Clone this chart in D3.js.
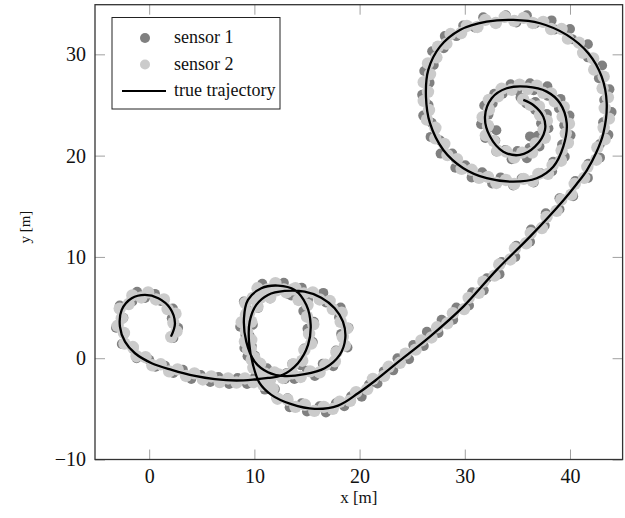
<!DOCTYPE html>
<html>
<head>
<meta charset="utf-8">
<script src="https://cdn.jsdelivr.net/npm/d3@7"></script>
<style>
  body { margin: 0; background: #fff; }
  text { font-family: "Liberation Serif", "DejaVu Serif", serif; fill: #111; }
</style>
</head>
<body>
<div id="chart"></div>
<script>
// Valeurs (en mètres)
const xTicks = [0, 10, 20, 30, 40];
const yTicks = [-10, 0, 10, 20, 30];

const trajectory = [
  [2.07, 2.13], [2.45, 3.45], [1.98, 4.94], [0.87, 5.92], [-0.4, 6.25], [-1.66, 5.92],
  [-2.61, 4.77], [-2.78, 3.12], [-2.3, 1.64], [-1.35, 0.49], [0.24, -0.49], [2.14, -1.15],
  [4.35, -1.75], [6.25, -2.07], [8.3, -2.2], [10.0, -2.1], [11.3, -1.95], [12.56, -1.71],
  [14.14, -0.49], [15.1, 1.31], [15.35, 3.29], [14.94, 5.26], [13.83, 6.74], [12.24, 7.17],
  [10.66, 6.91], [9.39, 5.76], [9.01, 3.95], [9.23, 1.64], [10.03, -0.34], [11.29, -1.38],
  [12.7, -1.75], [14.78, -1.58], [16.68, -0.99], [18.11, 0.33], [18.64, 1.97], [18.42, 3.61],
  [17.63, 4.94], [16.36, 5.98], [14.78, 6.57], [12.88, 6.64], [11.29, 6.25], [10.18, 5.26],
  [9.55, 3.61], [9.49, 1.64], [9.87, -0.66], [10.5, -2.47], [11.61, -3.62], [13.51, -4.54],
  [15.73, -5.0], [17.95, -4.68], [19.85, -3.46], [21.5, -2.2], [23.53, -0.49], [26.69, 2.13],
  [29.86, 5.09], [33.03, 8.72], [36.2, 12.0], [39.3, 15.5], [40.6, 17.15], [41.6, 18.55],
  [42.5, 20.3], [43.17, 22.21], [43.49, 25.17], [43.01, 27.8], [41.74, 30.11], [39.69, 31.92], [37.15, 33.07],
  [34.61, 33.4], [32.08, 33.23], [29.54, 32.41], [27.64, 30.76], [26.53, 28.46], [26.31, 25.82],
  [26.69, 23.2], [27.96, 20.56], [29.86, 18.76], [32.08, 17.77], [34.61, 17.43], [36.83, 17.77],
  [38.41, 18.91], [39.36, 20.89], [39.69, 23.2], [39.05, 25.17], [37.79, 26.32], [35.88, 26.81],
  [33.98, 26.65], [32.56, 25.67], [31.92, 23.85], [32.4, 21.88], [33.66, 20.39], [35.25, 20.07],
  [36.67, 20.89], [37.62, 22.54], [37.46, 23.85], [36.51, 25.0], [35.56, 25.5]
];

const sensor1 = [
  [2.3, 2.0], [2.75, 3.0], [2.15, 3.95], [2.25, 4.9], [1.1, 5.65], [0.55, 6.35], [-0.4, 5.95], [-1.15, 6.55],
  [-1.6, 5.6], [-2.8, 5.2], [-2.45, 4.0], [-3.15, 3.0], [-2.35, 2.45], [-2.6, 1.4], [-1.5, 0.9], [-1.2, 0.0],
  [0.0, -0.15], [0.6, -0.85], [1.5, -0.75], [2.3, -1.45], [3.2, -1.15], [4.0, -2.05], [4.9, -1.65], [5.8, -2.35],
  [6.6, -1.85], [7.6, -2.55], [8.4, -1.95], [9.3, -2.55], [10.2, -1.85], [11.1, -2.25], [12.0, -1.55],
  [12.9, -2.05], [13.6, -0.55], [14.4, -0.7], [14.75, 0.95], [15.55, 1.6], [15.05, 2.9], [15.65, 3.6], [14.65, 4.65],
  [15.1, 5.8], [13.5, 6.2], [12.8, 7.45], [11.6, 6.75], [10.75, 7.35], [9.9, 5.8], [9.0, 5.6], [9.35, 4.0],
  [8.65, 3.1], [9.55, 2.2], [9.05, 1.0], [10.05, 0.25], [9.9, -0.9], [11.2, -1.0], [11.6, -1.85], [13.1, -1.45],
  [13.8, -2.05], [15.0, -1.25], [15.75, -1.75], [16.5, -0.55], [17.5, -0.8], [17.75, 0.75], [18.85, 1.05], [18.25, 2.4],
  [18.95, 3.0], [18.05, 4.05], [18.2, 5.0], [16.8, 5.5], [16.55, 6.45], [15.15, 6.15], [14.5, 6.95], [13.2, 6.35],
  [12.25, 6.95], [11.5, 5.9], [10.7, 6.45], [10.35, 4.95], [9.35, 4.75], [9.85, 3.3], [9.15, 2.3], [9.75, 1.2],
  [9.35, 0.2], [10.15, -0.55], [10.05, -1.85], [10.9, -2.0], [11.0, -3.1], [11.95, -3.05], [12.1, -3.9], [13.15, -3.95],
  [13.35, -4.85], [14.5, -4.45], [15.0, -5.25], [16.2, -4.75], [16.8, -5.35], [17.75, -4.45], [18.55, -4.75], [19.2, -3.75],
  [20.2, -3.8], [20.9, -2.6], [21.7, -2.5], [22.3, -1.3], [23.2, -1.2], [23.6, 0.0], [24.7, -0.1], [25.1, 1.3],
  [26.1, 1.2], [26.4, 2.6], [27.5, 2.5], [27.8, 3.8], [28.9, 3.8], [29.2, 5.0], [30.4, 5.2], [30.7, 6.5],
  [31.8, 6.7], [32.1, 7.9], [33.3, 8.3], [33.5, 9.5], [34.8, 10.0], [34.9, 11.1], [36.2, 11.5], [36.3, 12.7],
  [37.6, 13.1], [37.7, 14.3], [39.0, 14.7], [39.0, 15.8], [40.3, 16.0], [40.5, 17.5], [41.7, 17.8], [41.75, 19.2],
  [42.85, 19.8], [42.85, 21.15], [43.65, 22.05], [43.15, 23.3], [43.95, 24.3], [43.25, 25.5], [43.75, 26.55], [42.75, 27.65],
  [43.05, 28.9], [41.7, 29.7], [41.7, 31.0], [40.2, 31.5], [40.0, 32.5], [38.55, 32.45], [38.25, 33.35], [36.7, 33.05],
  [35.9, 33.85], [34.9, 33.15], [33.9, 33.85], [32.9, 33.05], [31.75, 33.65], [30.95, 32.65], [29.85, 32.85], [29.2, 31.8],
  [28.1, 31.8], [28.0, 30.6], [26.9, 30.3], [27.05, 28.95], [26.15, 28.35], [26.65, 27.2], [25.95, 26.0], [26.55, 25.0],
  [26.05, 23.95], [26.85, 23.25], [26.75, 21.85], [27.65, 21.5], [27.7, 20.2], [28.8, 20.2], [29.1, 18.8], [30.05, 19.05],
  [30.65, 17.85], [31.65, 18.35], [32.6, 17.25], [33.4, 17.85], [34.6, 17.05], [35.4, 17.75], [36.55, 17.35], [37.2, 18.25],
  [38.3, 18.45], [38.4, 19.4], [39.5, 19.9], [39.25, 21.1], [40.05, 22.0], [39.45, 23.0], [39.95, 23.95], [38.95, 24.65],
  [39.1, 25.6], [37.9, 25.9], [37.85, 26.85], [36.55, 26.45], [36.2, 27.15], [35.0, 26.45], [34.35, 27.05], [33.6, 26.1],
  [32.8, 26.1], [32.65, 25.15], [31.85, 24.95], [32.25, 24.05], [31.55, 23.1], [32.35, 22.8], [31.95, 21.75], [32.9, 21.5],
  [33.0, 20.4], [33.85, 20.55], [34.45, 19.65], [35.0, 20.45], [35.9, 19.75], [36.15, 20.75], [37.1, 20.9], [36.95, 21.95],
  [37.95, 22.7], [37.25, 23.2], [37.8, 24.1], [36.7, 24.5], [36.7, 25.3], [35.85, 25.15], [35.3, 25.75],
  [33.0, 22.5], [36.2, 21.9]
];

const sensor2 = [
  [2.1, 2.1], [2.6, 2.65], [2.3, 3.5], [2.5, 4.4], [1.75, 4.85], [1.4, 5.8], [0.65, 5.8], [-0.1, 6.5],
  [-0.75, 6.0], [-1.6, 6.2], [-1.95, 5.35], [-2.8, 4.9], [-2.6, 3.95], [-3.0, 3.2], [-2.4, 2.5], [-2.35, 1.45],
  [-1.55, 1.1], [-1.2, 0.2], [-0.35, 0.1], [0.3, -0.7], [1.1, -0.6], [1.9, -1.3], [2.7, -1.1], [3.5, -1.75],
  [4.3, -1.5], [5.1, -2.1], [5.9, -1.8], [6.7, -2.35], [7.5, -2.0], [8.3, -2.4], [9.1, -2.0], [9.9, -2.35],
  [10.7, -1.8], [11.5, -2.1], [12.3, -1.6], [13.15, -1.6], [13.7, -0.6], [14.55, -0.25], [14.75, 0.8], [15.4, 1.45],
  [15.2, 2.4], [15.6, 3.35], [15.0, 4.1], [15.05, 5.25], [14.2, 5.75], [13.65, 6.8], [12.8, 6.8], [12.0, 7.4],
  [11.25, 6.8], [10.3, 6.9], [9.85, 5.95], [9.15, 5.45], [9.2, 4.3], [8.8, 3.55], [9.3, 2.6], [9.1, 1.65],
  [9.65, 0.9], [9.75, -0.15], [10.55, -0.55], [11.0, -1.5], [11.9, -1.4], [12.7, -1.95], [13.6, -1.5], [14.4, -1.85],
  [15.3, -1.3], [16.2, -1.4], [16.75, -0.65], [17.65, -0.3], [17.8, 0.6], [18.6, 1.25], [18.4, 2.1], [18.8, 2.95],
  [18.2, 3.6], [18.3, 4.5], [17.45, 4.85], [17.15, 5.65], [16.2, 5.8], [15.55, 6.5], [14.7, 6.4], [13.9, 6.9],
  [13.05, 6.5], [12.1, 6.7], [11.5, 6.0], [10.55, 5.95], [10.3, 5.1], [9.5, 4.5], [9.7, 3.6], [9.2, 2.7],
  [9.7, 1.8], [9.4, 0.85], [10.0, 0.05], [9.9, -0.95], [10.7, -1.6], [10.85, -2.65], [11.75, -3.0], [12.2, -4.0],
  [13.15, -4.1], [13.9, -4.8], [14.8, -4.6], [15.7, -5.2], [16.6, -4.8], [17.45, -5.0], [18.1, -4.3], [19.1, -4.2],
  [19.67, -3.35], [20.73, -3.05], [21.27, -2.05], [22.33, -1.75], [22.77, -0.85], [23.83, -0.45], [24.37, 0.45], [25.33, 0.85],
  [25.87, 1.75], [26.83, 2.05], [27.37, 3.05], [28.33, 3.45], [28.87, 4.45], [29.93, 4.85], [30.37, 5.95], [31.33, 6.45],
  [31.77, 7.55], [32.83, 8.15], [33.27, 9.25], [34.33, 9.75], [34.77, 10.85], [35.83, 11.35], [36.27, 12.35], [37.33, 12.85],
  [37.77, 13.95], [38.73, 14.55], [39.17, 15.65], [40.13, 16.15], [40.45, 17.2], [41.35, 17.8], [41.65, 18.9], [42.5, 19.6],
  [42.6, 20.8], [43.3, 21.6], [43.2, 22.75], [43.7, 23.65], [43.3, 24.7], [43.6, 25.75], [43.1, 26.65], [43.2, 27.8],
  [42.3, 28.5], [42.2, 29.6], [41.25, 30.15], [40.85, 31.15], [39.8, 31.55], [39.2, 32.5], [38.2, 32.5], [37.45, 33.2],
  [36.45, 33.1], [35.6, 33.6], [34.7, 33.3], [33.8, 33.7], [32.95, 33.1], [31.95, 33.4], [31.2, 32.7], [30.2, 32.8],
  [29.65, 32.1], [28.65, 32.0], [28.25, 31.05], [27.45, 30.75], [27.3, 29.7], [26.5, 29.1], [26.7, 28.05], [26.1, 27.25],
  [26.5, 26.3], [26.1, 25.4], [26.6, 24.5], [26.4, 23.55], [27.2, 22.75], [27.2, 21.7], [28.05, 21.15], [28.35, 20.05],
  [29.25, 19.65], [29.7, 18.7], [30.65, 18.6], [31.35, 17.8], [32.2, 17.9], [33.0, 17.3], [33.9, 17.6], [34.7, 17.2],
  [35.6, 17.7], [36.45, 17.5], [37.0, 18.2], [37.9, 18.2], [38.35, 19.05], [39.15, 19.5], [39.2, 20.5], [39.8, 21.25],
  [39.6, 22.2], [39.9, 23.15], [39.3, 23.85], [39.4, 24.8], [38.55, 25.35], [38.2, 26.15], [37.45, 26.2], [36.85, 26.9],
  [36.0, 26.6], [35.2, 27.0], [34.45, 26.5], [33.5, 26.6], [33.15, 25.85], [32.3, 25.5], [32.3, 24.55], [31.7, 23.8],
  [32.2, 22.95], [32.0, 22.0], [32.75, 21.45], [33.1, 20.5], [33.95, 20.4], [34.7, 19.8], [35.45, 20.3], [36.4, 20.3],
  [36.75, 21.2], [37.6, 21.75], [37.5, 22.6], [37.8, 23.45], [37.15, 24.0], [37.05, 24.85], [36.25, 25.0], [35.55, 25.55]
];

const legendItems = ["sensor 1", "sensor 2", "true trajectory"];

// Configuration
const width = 625;
const height = 518;
const plot = { left: 95, right: 622.6, top: 4.7, bottom: 459.5 };
const colorS1 = "#808080";
const colorS2 = "#cbcbcb";
const dotR = 5;      // rayon des marqueurs (légende, capteur 1)
const dotR2 = 6.2;   // capteur 2 : bande continue autour de la trajectoire

const svg = d3.select("#chart")
  .append("svg")
  .attr("width", width)
  .attr("height", height);

const x = d3.scaleLinear().domain([-5.15, 45]).range([plot.left, plot.right]);
const y = d3.scaleLinear().domain([-10, 34.9]).range([plot.bottom, plot.top]);

svg.append("defs").append("clipPath").attr("id", "clip")
  .append("rect")
  .attr("x", plot.left).attr("y", plot.top)
  .attr("width", plot.right - plot.left).attr("height", plot.bottom - plot.top);

const g = svg.append("g").attr("clip-path", "url(#clip)");

// Capteurs
g.selectAll(".s1")
  .data(sensor1)
  .enter()
  .append("circle")
  .attr("class", "s1")
  .attr("cx", (d) => x(d[0]))
  .attr("cy", (d) => y(d[1]))
  .attr("r", dotR)
  .attr("fill", colorS1);

g.selectAll(".s2")
  .data(sensor2)
  .enter()
  .append("circle")
  .attr("class", "s2")
  .attr("cx", (d) => x(d[0]))
  .attr("cy", (d) => y(d[1]))
  .attr("r", dotR2)
  .attr("fill", colorS2);

// Trajectoire
const line = d3.line()
  .x((d) => x(d[0]))
  .y((d) => y(d[1]))
  .curve(d3.curveCatmullRom.alpha(0.5));

g.append("path")
  .datum(trajectory)
  .attr("d", line)
  .attr("fill", "none")
  .attr("stroke", "#000")
  .attr("stroke-width", 2.3)
  .attr("stroke-linejoin", "round");

// Axes (graduations vers l'intérieur, sur les quatre côtés)
const tickLen = 10;
const axisStyle = (sel) => {
  sel.select(".domain").remove();
  sel.selectAll(".tick line").attr("stroke", "#a0a0a0").attr("stroke-width", 1);
  sel.selectAll(".tick text")
    .style("font-family", '"Liberation Serif", serif')
    .style("font-size", "20px")
    .attr("fill", "#111");
};

svg.append("g")
  .attr("transform", `translate(0,${plot.bottom})`)
  .call(d3.axisBottom(x).tickValues(xTicks).tickSizeInner(-tickLen).tickSizeOuter(0).tickPadding(9))
  .call(axisStyle);

svg.append("g")
  .attr("transform", `translate(0,${plot.top})`)
  .call(d3.axisTop(x).tickValues(xTicks).tickSizeInner(-tickLen).tickSizeOuter(0).tickFormat(""))
  .call(axisStyle);

svg.append("g")
  .attr("transform", `translate(${plot.left},0)`)
  .call(d3.axisLeft(y).tickValues(yTicks).tickSizeInner(-tickLen).tickSizeOuter(0).tickPadding(9))
  .call(axisStyle);

svg.append("g")
  .attr("transform", `translate(${plot.right},0)`)
  .call(d3.axisRight(y).tickValues(yTicks).tickSizeInner(-tickLen).tickSizeOuter(0).tickFormat(""))
  .call(axisStyle);

// Cadre
svg.append("rect")
  .attr("x", plot.left).attr("y", plot.top)
  .attr("width", plot.right - plot.left).attr("height", plot.bottom - plot.top)
  .attr("fill", "none")
  .attr("stroke", "#333")
  .attr("stroke-width", 1.3);

// Titres des axes
svg.append("text")
  .attr("x", (plot.left + plot.right) / 2)
  .attr("y", 503)
  .attr("text-anchor", "middle")
  .style("font-size", "17px")
  .text("x [m]");

svg.append("text")
  .attr("transform", `translate(30,${(plot.top + plot.bottom) / 2 - 5}) rotate(-90)`)
  .attr("text-anchor", "middle")
  .style("font-size", "15px")
  .text("y [m]");

// Légende
const legend = svg.append("g");
legend.append("rect")
  .attr("x", 112).attr("y", 17.5)
  .attr("width", 168).attr("height", 91.5)
  .attr("fill", "#fff")
  .attr("stroke", "#222")
  .attr("stroke-width", 1);

legend.append("circle").attr("cx", 145).attr("cy", 38).attr("r", dotR).attr("fill", colorS1);
legend.append("circle").attr("cx", 145).attr("cy", 64.5).attr("r", dotR).attr("fill", colorS2);
legend.append("line")
  .attr("x1", 122).attr("x2", 166).attr("y1", 91).attr("y2", 91)
  .attr("stroke", "#000").attr("stroke-width", 2.2);

legend.selectAll(".ltxt")
  .data(legendItems)
  .enter()
  .append("text")
  .attr("class", "ltxt")
  .attr("x", 174)
  .attr("y", (d, i) => 43 + i * 26.5)
  .style("font-size", "18px")
  .text((d) => d);
</script>
</body>
</html>
